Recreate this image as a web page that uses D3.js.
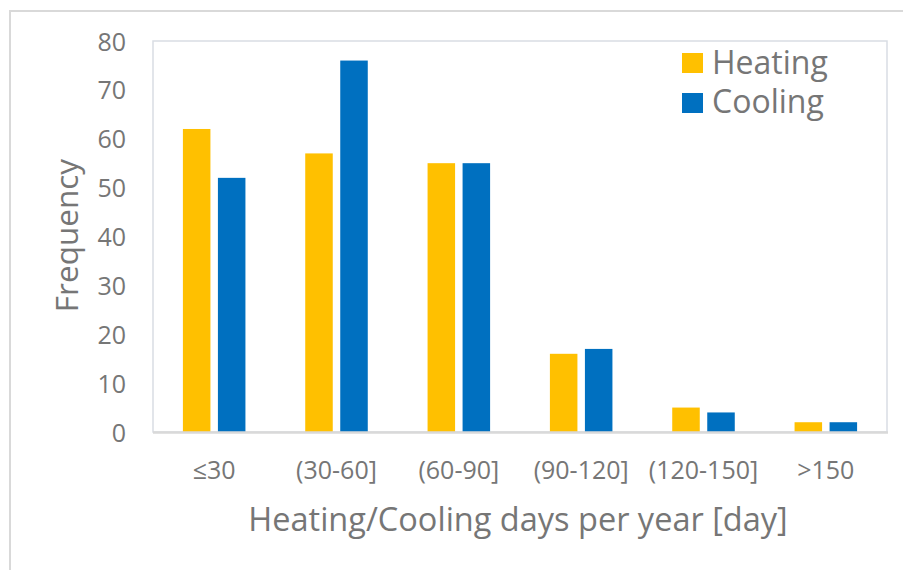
<!DOCTYPE html>
<html><head><meta charset="utf-8">
<script src="https://cdn.jsdelivr.net/npm/d3@7"></script>
<style>body{margin:0;background:#fff;} text{font-family:"Open Sans",Lato,sans-serif;fill:#767676;}</style>
</head><body>
<svg id="c" width="903" height="570"></svg>
<script>
const categories = ["≤30","(30-60]","(60-90]","(90-120]","(120-150]",">150"];
const seriesNames = ["Heating","Cooling"];
const heating = [62,57,55,16,5,2];
const cooling = [52,76,55,17,4,2];
const yTicks = [0,10,20,30,40,50,60,70,80];
const colors = ["#FFC000","#0070C0"];

const svg = d3.select("#c");
const m = {l:153, t:41, r:887, b:432};
// outer chart border (left & top visible)
svg.append("path").attr("d","M10,570 L10,11 L903,11").attr("fill","none").attr("stroke","#d9d9d9").attr("stroke-width",2);

const x = d3.scaleBand().domain(categories).range([m.l,m.r]).paddingInner(0).paddingOuter(0);
const xs = d3.scaleBand().domain(seriesNames).range([0,x.bandwidth()]).paddingInner(0.214).paddingOuter(0.854);
const y = d3.scaleLinear().domain([0,80]).range([m.b,m.t]);

// plot area border
svg.append("rect").attr("x",m.l).attr("y",m.t).attr("width",m.r-m.l).attr("height",m.b-m.t)
  .attr("fill","none").attr("stroke","#d9dde4").attr("stroke-width",1.5);

const data = categories.map((c,i)=>({c, vals:[heating[i],cooling[i]]}));
const g = svg.append("g");
data.forEach(d=>{
  d.vals.forEach((v,j)=>{
    g.append("rect").attr("x",x(d.c)+xs(seriesNames[j])).attr("width",xs.bandwidth())
      .attr("y",y(v)).attr("height",y(0)-y(v)).attr("fill",colors[j]);
  });
});

// x axis line
svg.append("line").attr("x1",m.l).attr("x2",m.r+1).attr("y1",m.b+0.5).attr("y2",m.b+0.5).attr("stroke","#d9d9d9").attr("stroke-width",2.5);

// y axis
const ya = d3.axisLeft(y).tickValues(yTicks).tickSize(0).tickPadding(27);
const yg = svg.append("g").attr("transform",`translate(${m.l},0)`).call(ya);
yg.select(".domain").remove();
yg.selectAll("text").style("font-size","25px").attr("fill","#767676").attr("dy","0.36em");

// x axis labels
const xa = d3.axisBottom(x).tickSize(0).tickPadding(29);
const xg = svg.append("g").attr("transform",`translate(0,${m.b})`).call(xa);
xg.select(".domain").remove();
xg.selectAll("text").style("font-size","25px").attr("fill","#767676");

// axis titles
svg.append("text").attr("x",(m.l+m.r)/2 - 2).attr("y",531).attr("text-anchor","middle").style("font-size","32.5px").text("Heating/Cooling days per year [day]");
svg.append("text").attr("transform",`translate(78,${(m.t+m.b)/2 - 1}) rotate(-90)`).attr("text-anchor","middle").style("font-size","31.5px").text("Frequency");

// legend
const lg = svg.append("g");
seriesNames.forEach((s,i)=>{
  lg.append("rect").attr("x",682).attr("y",53+i*40).attr("width",21).attr("height",20).attr("fill",colors[i]);
  lg.append("text").attr("x",712).attr("y",74+i*39).style("font-size","32px").text(s);
});
</script>
</body></html>
